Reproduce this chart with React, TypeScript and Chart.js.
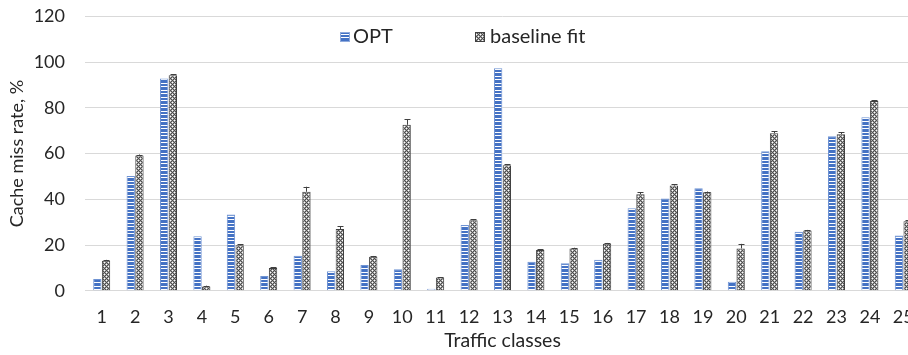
import React, { useEffect, useRef } from "react";
import { Chart, registerables } from "chart.js";

Chart.register(...registerables);

const categories = ["1", "2", "3", "4", "5", "6", "7", "8", "9", "10", "11", "12", "13", "14", "15", "16", "17", "18", "19", "20", "21", "22", "23", "24", "25"];
const optValues = [5.1, 50.2, 92.9, 23.8, 33.4, 6.4, 15.3, 8.5, 11.2, 9.4, 0.9, 28.8, 97.3, 12.7, 12.0, 13.5, 36.1, 40.4, 44.8, 3.9, 61.0, 25.8, 67.6, 75.9, 24.2];
const baselineValues = [13.1, 59.2, 94.3, 1.8, 19.9, 9.9, 43.3, 27.0, 14.9, 72.6, 5.8, 30.8, 54.9, 17.8, 18.5, 20.6, 42.2, 46.0, 43.1, 18.5, 68.9, 26.3, 68.5, 83.0, 30.4];
const baselineErrors = [0.4, 0.4, 0.4, 0.4, 0.4, 0.3, 2.2, 1.2, 0.3, 2.5, 0.2, 0.5, 0.4, 0.3, 0.3, 0.3, 0.9, 0.5, 0.3, 2.0, 0.9, 0.3, 0.9, 0.4, 0.5];
const seriesNames = ["OPT", "baseline fit"];
const yMin = 0;
const yMax = 120;
const yStep = 20;
const xTitle = "Traffic classes";
const yTitle = "Cache miss rate, %";

const FONT = "Lato, 'Open Sans', sans-serif";
const TEXT = "#262626";

function makeOptPattern(ctx: CanvasRenderingContext2D): CanvasPattern | string {
  const c = document.createElement("canvas");
  c.width = 4;
  c.height = 7;
  const g = c.getContext("2d");
  if (!g) return "#4472C4";
  const rows = ["#4472C4", "#4472C4", "#FFFFFF", "#4472C4", "#4472C4", "#4472C4", "#FFFFFF"];
  rows.forEach((col, i) => {
    g.fillStyle = col;
    g.fillRect(0, i, 4, 1);
  });
  return ctx.createPattern(c, "repeat") || "#4472C4";
}

function makeBasePattern(ctx: CanvasRenderingContext2D): CanvasPattern | string {
  const c = document.createElement("canvas");
  c.width = 4;
  c.height = 4;
  const g = c.getContext("2d");
  if (!g) return "#A6A6A6";
  for (let x = 0; x < 4; x++) {
    for (let y = 0; y < 4; y++) {
      let col = "#A6A6A6";
      if ((x + y) % 4 === 0 || (x - y + 4) % 4 === 0) col = "#4D4D4D";
      if ((x === 0 && y === 2) || (x === 2 && y === 0)) col = "#FFFFFF";
      g.fillStyle = col;
      g.fillRect(x, y, 1, 1);
    }
  }
  return ctx.createPattern(c, "repeat") || "#A6A6A6";
}

export default function App() {
  const ref = useRef<HTMLCanvasElement | null>(null);

  useEffect(() => {
    const canvas = ref.current;
    if (!canvas) return;
    const ctx = canvas.getContext("2d");
    if (!ctx) return;
    const optPat = makeOptPattern(ctx);
    const basePat = makeBasePattern(ctx);

    const errorBars = {
      id: "errorBars",
      afterDatasetsDraw(chart: any) {
        const meta = chart.getDatasetMeta(1);
        const y = chart.scales.y;
        const c = chart.ctx;
        c.save();
        c.strokeStyle = "#404040";
        c.lineWidth = 1;
        meta.data.forEach((bar: any, i: number) => {
          const v = baselineValues[i];
          const e = baselineErrors[i];
          const yTop = y.getPixelForValue(v + e);
          const yBar = y.getPixelForValue(v);
          const x = Math.round(bar.x) + 0.5;
          c.beginPath();
          c.moveTo(x, yBar);
          c.lineTo(x, yTop);
          c.moveTo(x - 3, Math.round(yTop) + 0.5);
          c.lineTo(x + 3, Math.round(yTop) + 0.5);
          c.stroke();
        });
        c.restore();
      },
    };

    const legendPlugin = {
      id: "customLegend",
      afterDraw(chart: any) {
        const c = chart.ctx;
        c.save();
        c.font = `20px ${FONT}`;
        c.textBaseline = "middle";
        const cy = 37;
        c.fillStyle = optPat as any;
        c.fillRect(340, cy - 5, 10, 10);
        c.strokeStyle = "#8FAADC";
        c.lineWidth = 1;
        c.strokeRect(340.5, cy - 4.5, 9, 9);
        c.fillStyle = TEXT;
        c.fillText(seriesNames[0], 353, cy);
        c.fillStyle = basePat as any;
        c.fillRect(475, cy - 5, 10, 10);
        c.strokeStyle = "#404040";
        c.strokeRect(475.5, cy - 4.5, 9, 9);
        c.fillStyle = TEXT;
        c.fillText(seriesNames[1], 490, cy);
        c.restore();
      },
    };

    const chart = new Chart(ctx, {
      type: "bar",
      data: {
        labels: categories,
        datasets: [
          {
            label: seriesNames[0],
            data: optValues,
            backgroundColor: optPat as any,
            borderColor: "#6F93D3",
            borderWidth: 1,
            categoryPercentage: 0.52,
            barPercentage: 0.96,
          },
          {
            label: seriesNames[1],
            data: baselineValues,
            backgroundColor: basePat as any,
            borderColor: "#404040",
            borderWidth: 1,
            categoryPercentage: 0.52,
            barPercentage: 0.96,
          },
        ],
      },
      options: {
        animation: false,
        responsive: false,
        devicePixelRatio: 1,
        layout: { padding: { top: 16.5, left: 0, right: 10, bottom: 0 } },
        plugins: {
          legend: { display: false },
          tooltip: { enabled: false },
        },
        scales: {
          x: {
            grid: { display: false },
            border: { display: true, color: "#D9D9D9" },
            ticks: {
              color: TEXT,
              font: { family: FONT, size: 18 },
              padding: 8,
              maxRotation: 0,
              autoSkip: false,
            },
            title: {
              display: true,
              text: xTitle,
              color: TEXT,
              font: { family: FONT, size: 19.5 },
              padding: { top: 4, bottom: 3 },
            },
            afterFit: (s: any) => {
              s.height = 64.3;
              s.paddingLeft = 0;
              s.paddingRight = 0;
            },
          },
          y: {
            min: yMin,
            max: yMax,
            ticks: {
              stepSize: yStep,
              color: TEXT,
              font: { family: FONT, size: 18 },
              padding: 20,
            },
            grid: { color: "#D9D9D9", drawTicks: false, lineWidth: 1 },
            border: { display: false },
            title: {
              display: true,
              text: yTitle,
              color: TEXT,
              font: { family: FONT, size: 18 },
              padding: { top: 6, bottom: 0 },
            },
            afterFit: (s: any) => {
              s.width = 85;
              s.paddingTop = 0;
              s.paddingBottom = 0;
            },
          },
        },
      },
      plugins: [errorBars, legendPlugin],
    });
    return () => chart.destroy();
  }, []);

  return (
    <div style={{ position: "fixed", left: 0, top: 0, width: 908, height: 355, overflow: "hidden", background: "#fff" }}>
      <canvas ref={ref} width={930} height={355} style={{ display: "block", width: 930, height: 355 }} />
    </div>
  );
}
